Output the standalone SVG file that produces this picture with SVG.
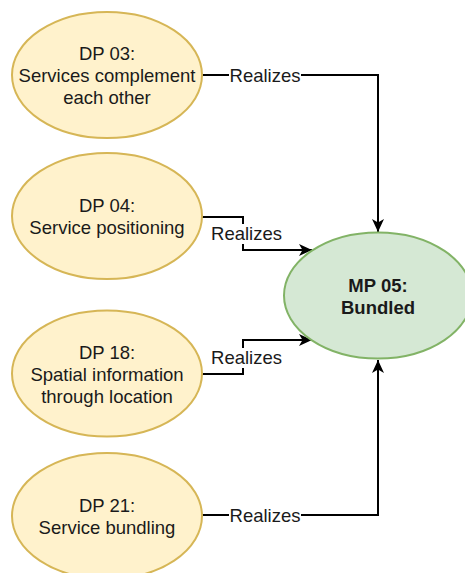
<svg xmlns="http://www.w3.org/2000/svg" width="465" height="573" viewBox="0 0 465 573">
<style>
.dp{fill:#fff2cc;stroke:#d6b656;stroke-width:2}
.mp{fill:#d5e8d4;stroke:#82b366;stroke-width:2}
.t{font-family:"Liberation Sans",Arial,sans-serif;font-size:18.5px;fill:#1a1a1a;text-anchor:middle}
.b{font-weight:bold}
.c{fill:none;stroke:#000;stroke-width:2}
.lbl{fill:#fff}
</style>
<defs>
<marker id="arr" markerUnits="userSpaceOnUse" markerWidth="14" markerHeight="12" refX="13" refY="6" orient="auto">
<path d="M0,0 L13,6 L0,12 L3.5,6 Z" fill="#000"/>
</marker>
</defs>
<rect width="465" height="573" fill="#fff"/>
<g id="connectors">
<path class="c" d="M202,75 H378 V232" marker-end="url(#arr)"/>
<path class="c" d="M202,217 H243 V250 H312" marker-end="url(#arr)"/>
<path class="c" d="M202,374 H243 V340 H312" marker-end="url(#arr)"/>
<path class="c" d="M202,515 H378 V360" marker-end="url(#arr)"/>
<rect class="lbl" x="229" y="65" width="72" height="20"/>
<text class="t" x="265" y="81.5">Realizes</text>
<rect class="lbl" x="210" y="224" width="73" height="20"/>
<text class="t" x="246.5" y="240">Realizes</text>
<rect class="lbl" x="210" y="348" width="73" height="20"/>
<text class="t" x="246.5" y="364">Realizes</text>
<rect class="lbl" x="229" y="505" width="72" height="20"/>
<text class="t" x="265" y="521.5">Realizes</text>
</g>
<g id="dp03">
<ellipse class="dp" cx="107" cy="75" rx="95" ry="63"/>
<text class="t" x="107" y="60">DP 03:</text>
<text class="t" x="107" y="82">Services complement</text>
<text class="t" x="107" y="103.5">each other</text>
</g>
<g id="dp04">
<ellipse class="dp" cx="107" cy="216" rx="95" ry="63"/>
<text class="t" x="107" y="212">DP 04:</text>
<text class="t" x="107" y="234">Service positioning</text>
</g>
<g id="dp18">
<ellipse class="dp" cx="107" cy="373.5" rx="95" ry="63"/>
<text class="t" x="107" y="358.5">DP 18:</text>
<text class="t" x="107" y="381">Spatial information</text>
<text class="t" x="107" y="402.5">through location</text>
</g>
<g id="dp21">
<ellipse class="dp" cx="107" cy="516" rx="95" ry="63"/>
<text class="t" x="107" y="511.5">DP 21:</text>
<text class="t" x="107" y="533.5">Service bundling</text>
</g>
<g id="mp05">
<ellipse class="mp" cx="378" cy="295.5" rx="94" ry="63"/>
<text class="t b" x="378" y="292">MP 05:</text>
<text class="t b" x="378" y="313.5">Bundled</text>
</g>
</svg>
